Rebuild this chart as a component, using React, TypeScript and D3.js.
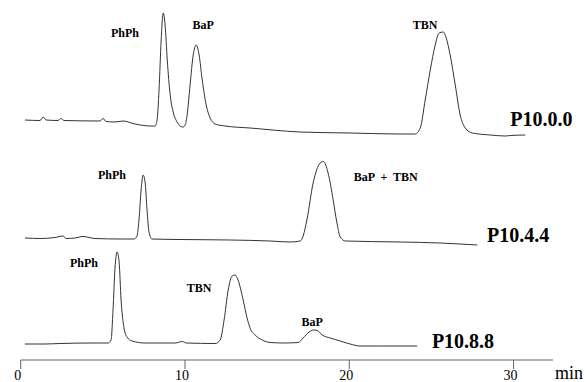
import React, { useEffect, useRef } from "react";
import * as d3 from "d3";

// retention time (min) vs detector response, relative to each trace's baseline
const traceP1000: [number, number][] = [
  [0.26, 0], [1.18, -0.5], [1.36, 3], [1.54, 0], [2.27, -0.5], [2.45, 1.5], [2.64, -0.5],
  [4.83, -1], [5.01, 1.5], [5.2, -1.5], [5.74, -2], [6.23, -1], [6.96, -4], [7.88, -6],
  [8.18, -6], [8.3, 0], [8.42, 30], [8.55, 80], [8.67, 107], [8.79, 95], [8.92, 60],
  [9.1, 25], [9.28, 8], [9.52, -2], [9.7, -6], [9.89, -7], [10.01, -5], [10.13, 5],
  [10.31, 35], [10.5, 65], [10.68, 75], [10.86, 65], [11.05, 40], [11.29, 15], [11.53, 2],
  [11.83, -4], [12.44, -6], [13.96, -8], [17.01, -12], [20.05, -13], [23.1, -14], [24.0, -14],
  [24.32, -8], [24.62, 20], [24.93, 50], [25.23, 75], [25.47, 87], [25.72, 88], [25.9, 82],
  [26.14, 65], [26.45, 35], [26.75, 5], [27.06, -8], [27.49, -13], [28.58, -15], [29.5, -16],
  [29.8, -15.5], [30.71, -15],
];

const traceP1044: [number, number][] = [
  [0.26, 0], [1.18, -0.5], [2.09, 0.5], [2.58, 2], [2.76, -0.5], [3.31, 0], [3.79, 1.5],
  [4.52, -0.5], [6.05, -1], [6.9, -1], [7.08, 2], [7.2, 18], [7.33, 48], [7.45, 63],
  [7.57, 56], [7.69, 28], [7.81, 6], [7.99, -1], [9.7, -1.5], [12.75, -2], [15.18, -3],
  [16.4, -4], [17.01, -3], [17.19, 2], [17.42, 18], [17.8, 55], [18.23, 75], [18.43, 76.5],
  [18.71, 65], [19.02, 38], [19.25, 15], [19.45, 1], [19.76, -3], [23.1, -4], [25.54, -5],
  [26.75, -6], [27.79, -7],
];

const traceP1088: [number, number][] = [
  [0.26, 0], [1.48, 0], [2.39, 0.5], [4.22, 1], [5.32, 1], [5.5, 4], [5.62, 34], [5.74, 76],
  [5.87, 92], [5.99, 82], [6.11, 44], [6.29, 16], [6.47, 7], [6.78, 3], [7.57, 1], [9.4, 1],
  [9.83, 2.5], [10.07, 1], [11.83, 0.5], [12.14, 4], [12.38, 24], [12.63, 54], [12.87, 68],
  [13.05, 69], [13.23, 64], [13.54, 44], [13.78, 26], [13.96, 16], [14.27, 9], [14.7, 4],
  [15.18, 1.5], [16.1, 1], [16.89, 1.5], [17.19, 6], [17.56, 12], [17.8, 14], [18.05, 13.5],
  [18.35, 9], [18.84, 6], [19.45, 3], [20.05, 0], [20.66, -2], [21.88, -2], [24.14, -2],
];

const sampleNames = ["P10.0.0", "P10.4.4", "P10.8.8"];
const baselineOffsets = [240, 122, 16];
const sampleLabelAt: [number, number][] = [[29.8, -6], [28.38, -4], [25.03, -4]];

const peakNames = [
  ["PhPh", "BaP", "TBN"],
  ["PhPh", "BaP  +  TBN"],
  ["PhPh", "TBN", "BaP"],
];
const peakLabelAt: [number, number][][] = [
  [[6.35, 87], [11.1, 95], [24.62, 95]],
  [[5.56, 63], [22.22, 61]],
  [[3.85, 81], [10.86, 56], [17.74, 22]],
];

const timeTicks = [0, 10, 20, 30];

const serif = "Liberation Serif";

const App = () => {
  const svgRef = useRef<SVGSVGElement>(null);

  useEffect(() => {
    document.body.style.margin = "0";
    const svg = d3.select(svgRef.current);
    svg.selectAll("*").remove();

    const x = d3.scaleLinear().domain([0, 32.4]).range([20.7, 553]);
    const y = d3.scaleLinear().domain([0, 350]).range([360, 10]);

    const traces = [traceP1000, traceP1044, traceP1088];

    traces.forEach((trace, i) => {
      const line = d3
        .line<[number, number]>()
        .x((d) => x(d[0]))
        .y((d) => y(d[1] + baselineOffsets[i]))
        .curve(d3.curveMonotoneX);

      svg
        .append("path")
        .datum(trace)
        .attr("fill", "none")
        .attr("stroke", "#333")
        .attr("stroke-width", 1)
        .attr("d", line);

      peakNames[i].forEach((name, j) => {
        const [t, r] = peakLabelAt[i][j];
        svg
          .append("text")
          .attr("x", x(t))
          .attr("y", y(r + baselineOffsets[i]))
          .attr("dy", "0.35em")
          .attr("text-anchor", "middle")
          .attr("font-family", serif)
          .attr("font-weight", "bold")
          .attr("font-size", 12)
          .style("white-space", "pre")
          .text(name);
      });

      const [lt, lr] = sampleLabelAt[i];
      svg
        .append("text")
        .attr("x", x(lt))
        .attr("y", y(lr + baselineOffsets[i]))
        .attr("font-family", serif)
        .attr("font-weight", "bold")
        .attr("font-size", 20)
        .text(sampleNames[i]);
    });

    // time axis
    const axis = svg.append("g").attr("transform", `translate(0, ${y(0)})`);
    axis
      .append("line")
      .attr("x1", x(0))
      .attr("x2", x(32.4))
      .attr("stroke", "#666")
      .attr("stroke-width", 1);

    axis
      .selectAll(".tick")
      .data(timeTicks)
      .enter()
      .append("line")
      .attr("x1", (d) => x(d))
      .attr("x2", (d) => x(d))
      .attr("y1", 0)
      .attr("y2", 9)
      .attr("stroke", "#666");

    axis
      .selectAll(".tlabel")
      .data(timeTicks)
      .enter()
      .append("text")
      .attr("x", (d) => x(d) - 3)
      .attr("y", 15)
      .attr("dy", "0.35em")
      .attr("text-anchor", "middle")
      .attr("font-family", serif)
      .attr("font-size", 14)
      .text((d) => d);

    axis
      .append("text")
      .attr("x", x(32.4) + 2)
      .attr("y", 13)
      .attr("dy", "0.35em")
      .attr("font-family", serif)
      .attr("font-size", 18)
      .text("min");
  }, []);

  return <svg ref={svgRef} width={588} height={382} style={{ display: "block", background: "#fff" }} />;
};

export default App;
